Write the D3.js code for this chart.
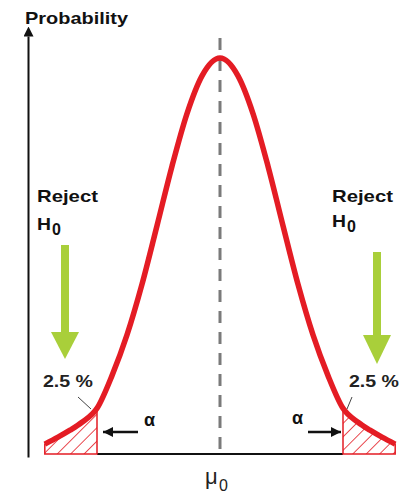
<!DOCTYPE html>
<html>
<head>
<meta charset="utf-8">
<script src="https://cdn.jsdelivr.net/npm/d3@7"></script>
<style>
  html, body { margin: 0; padding: 0; background: #fff; }
  svg { display: block; }
  text { font-family: "Liberation Sans", Arial, sans-serif; }
</style>
</head>
<body>
<svg id="chart" width="401" height="497"></svg>
<script>
// ---- data ----
const zValues = [-2.92, -2.7, -2.5, -2.3, -2.05, -1.8, -1.55, -1.3, -1.05, -0.8, -0.55, -0.3, 0,
                 0.3, 0.55, 0.8, 1.05, 1.3, 1.55, 1.8, 2.05, 2.3, 2.5, 2.7, 2.92];
const density = [0.010, 0.017, 0.024, 0.032, 0.046, 0.079, 0.120, 0.171, 0.230, 0.290, 0.343, 0.381, 0.399,
                 0.381, 0.343, 0.290, 0.230, 0.171, 0.120, 0.079, 0.046, 0.032, 0.024, 0.017, 0.010];
const criticalZ = 2.05;
const yLabel = "Probability";
const rejectLabel = "Reject";
const hLabel = ["H", "0"];
const tailLabel = "2.5 %";
const alphaLabel = "α";
const meanLabel = ["μ", "0"];

const points = zValues.map((z, i) => ({ z, d: density[i] }));

const svg = d3.select("#chart");
const x = d3.scaleLinear().domain([-3, 3]).range([40, 400]);
const y = d3.scaleLinear().domain([0, 0.4]).range([454, 57]);

const red = "#e41c24";
const green = "#a9cf3a";

// defs: hatch pattern + arrow markers
const defs = svg.append("defs");
const pat = defs.append("pattern").attr("id", "hatch")
  .attr("patternUnits", "userSpaceOnUse").attr("width", 9.5).attr("height", 9.5)
  .attr("patternTransform", "rotate(45)");
pat.append("line").attr("x1", 0).attr("y1", 0).attr("x2", 0).attr("y2", 9.5)
  .attr("stroke", red).attr("stroke-width", 1.6);

defs.append("marker").attr("id", "axisArrow")
  .attr("viewBox", "0 0 10 10").attr("refX", 5).attr("refY", 10)
  .attr("markerWidth", 10).attr("markerHeight", 10).attr("markerUnits", "userSpaceOnUse")
  .attr("orient", "0")
  .append("path").attr("d", "M0,10 L5,0 L10,10 Z").attr("fill", "#111");

defs.append("marker").attr("id", "blackArrow")
  .attr("viewBox", "0 0 10 10").attr("refX", 10).attr("refY", 5)
  .attr("markerWidth", 10).attr("markerHeight", 10).attr("markerUnits", "userSpaceOnUse")
  .attr("orient", "auto")
  .append("path").attr("d", "M0,0 L10,5 L0,10 Z").attr("fill", "#111");

// y axis (no ticks) with arrow
const yAxisScale = d3.scaleLinear().domain([0, 1]).range([457, 36]);
const yAxisG = svg.append("g").attr("transform", "translate(28,0)")
  .call(d3.axisLeft(yAxisScale).tickValues([]).tickSizeOuter(0));
yAxisG.select(".domain").attr("stroke", "#111").attr("stroke-width", 2)
  .attr("marker-end", "url(#axisArrow)");

svg.append("text").attr("x", 25).attr("y", 24)
  .attr("font-size", 17).attr("font-weight", "bold").attr("fill", "#111")
  .attr("textLength", 103).attr("lengthAdjust", "spacingAndGlyphs")
  .text(yLabel);

// baseline between tails
svg.append("line")
  .attr("x1", x(-criticalZ)).attr("x2", x(criticalZ))
  .attr("y1", y(0)).attr("y2", y(0))
  .attr("stroke", "#111").attr("stroke-width", 2);

// mean dashed line
svg.append("line")
  .attr("x1", x(0)).attr("x2", x(0)).attr("y1", 38).attr("y2", y(0))
  .attr("stroke", "#7a7a7a").attr("stroke-width", 3).attr("stroke-dasharray", "12,9");

// hatched tails
const area = d3.area().x(p => x(p.z)).y0(y(0)).y1(p => y(p.d)).curve(d3.curveMonotoneX);
const leftTail = points.filter(p => p.z <= -criticalZ);
const rightTail = points.filter(p => p.z >= criticalZ);
[leftTail, rightTail].forEach(t => {
  svg.append("path").datum(t).attr("d", area)
    .attr("fill", "url(#hatch)").attr("stroke", red).attr("stroke-width", 1.5);
});

// curve
const line = d3.line().x(p => x(p.z)).y(p => y(p.d)).curve(d3.curveMonotoneX);
svg.append("path").datum(points).attr("d", line)
  .attr("fill", "none").attr("stroke", red).attr("stroke-width", 5.5)
  .attr("stroke-linejoin", "round");

// Reject H0 labels
function rejectText(xp, yb, hb) {
  svg.append("text").attr("x", xp).attr("y", yb)
    .attr("font-size", 17).attr("font-weight", "bold").attr("fill", "#111")
    .attr("textLength", 61).attr("lengthAdjust", "spacingAndGlyphs").text(rejectLabel);
  svg.append("text").attr("x", xp).attr("y", hb)
    .attr("font-size", 17).attr("font-weight", "bold").attr("fill", "#111")
    .attr("textLength", 14).attr("lengthAdjust", "spacingAndGlyphs").text(hLabel[0]);
  svg.append("text").attr("x", xp + 15).attr("y", hb + 5)
    .attr("font-size", 16).attr("font-weight", "bold").attr("fill", "#111")
    .text(hLabel[1]);
}
rejectText(37, 202, 230);
rejectText(332, 202, 227);

// green arrows
function greenArrow(cx, top, headTop, tip) {
  svg.append("rect").attr("x", cx - 4).attr("y", top).attr("width", 8).attr("height", headTop - top + 1)
    .attr("fill", green);
  svg.append("path")
    .attr("d", `M${cx - 14},${headTop} L${cx + 14},${headTop} L${cx},${tip} Z`)
    .attr("fill", green);
}
greenArrow(65, 245, 332, 359);
greenArrow(377, 252, 335, 364);

// 2.5 % labels with leader lines
svg.append("text").attr("x", 43).attr("y", 387)
  .attr("font-size", 17).attr("font-weight", "bold").attr("fill", "#222")
  .attr("textLength", 50).attr("lengthAdjust", "spacingAndGlyphs").text(tailLabel);
svg.append("text").attr("x", 349).attr("y", 387)
  .attr("font-size", 17).attr("font-weight", "bold").attr("fill", "#222")
  .attr("textLength", 50).attr("lengthAdjust", "spacingAndGlyphs").text(tailLabel);
svg.append("line").attr("x1", 78).attr("y1", 397).attr("x2", 91).attr("y2", 409)
  .attr("stroke", "#444").attr("stroke-width", 1);
svg.append("line").attr("x1", 352).attr("y1", 397).attr("x2", 347).attr("y2", 409)
  .attr("stroke", "#444").attr("stroke-width", 1);

// alpha labels and arrows
svg.append("text").attr("x", 144).attr("y", 426)
  .attr("font-size", 18).attr("font-weight", "bold").attr("fill", "#111").text(alphaLabel);
svg.append("text").attr("x", 292).attr("y", 424)
  .attr("font-size", 18).attr("font-weight", "bold").attr("fill", "#111").text(alphaLabel);
svg.append("line").attr("x1", 138).attr("y1", 432).attr("x2", 103).attr("y2", 432)
  .attr("stroke", "#111").attr("stroke-width", 2.5).attr("marker-end", "url(#blackArrow)");
svg.append("line").attr("x1", 308).attr("y1", 432).attr("x2", 341).attr("y2", 432)
  .attr("stroke", "#111").attr("stroke-width", 2.5).attr("marker-end", "url(#blackArrow)");

// mu0 label
svg.append("text").attr("x", 205).attr("y", 484)
  .attr("font-size", 22).attr("fill", "#222").text(meanLabel[0]);
svg.append("text").attr("x", 219).attr("y", 491)
  .attr("font-size", 16).attr("fill", "#222").text(meanLabel[1]);
</script>
</body>
</html>
